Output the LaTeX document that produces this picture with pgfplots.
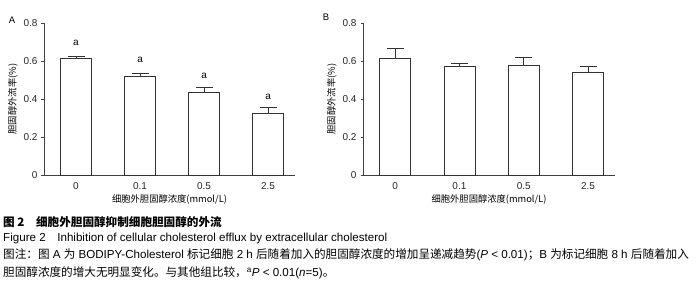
\documentclass[border=0pt]{standalone}
\usepackage{pgfplots}
\pgfplotsset{compat=1.18}
\usepackage{fontspec}
\setmainfont{Liberation Sans}
\newfontfamily\cjk{Noto Sans CJK SC}
\definecolor{axgray}{HTML}{404040}
\pgfplotsset{myaxis/.style={
  scale only axis, width=251pt, height=152pt,
  axis x line*=bottom, axis y line*=left,
  axis line style={axgray, line width=0.6pt},
  xmin=-0.5, xmax=3.42, ymin=0, ymax=0.8,
  xtick=data, xticklabels={0,0.1,0.5,2.5},
  xtick style={draw=none},
  ytick={0,0.2,0.4,0.6,0.8}, yticklabels={0,0.2,0.4,0.6,0.8},
  ytick style={axgray, line width=0.6pt}, tick align=outside, major tick length=2.5pt,
  ticklabel style={font=\fontsize{10}{11}\selectfont, text=black!85},
  yticklabel style={xshift=-0.5pt},
  xticklabel style={yshift=-1pt},
  ylabel={\cjk\fontsize{9.3}{10}\selectfont 胆固醇外流率(\%)},
  xlabel={\cjk\fontsize{9.3}{10}\selectfont 细胞外胆固醇浓度(mmol/L)},
  ylabel style={yshift=-1pt},
  xlabel style={yshift=1.5pt},
  clip=false,
}}
\begin{document}
\begin{tikzpicture}
\path[use as bounding box] (0,0) rectangle (700pt,289pt);
% Panel A
\begin{axis}[myaxis, at={(44pt,114pt)}, anchor=south west]
\addplot[ybar, bar width=31pt, draw=black!80, fill=white, line width=0.6pt,
  error bars/.cd, y dir=plus, y explicit,
  error bar style={black!80, line width=0.6pt},
  error mark options={rotate=90, mark size=8.5pt, black!80, line width=0.6pt}]
  table[x=x, y=y, y error=e] {
x y e
0 0.612 0.012
1 0.522 0.013
2 0.433 0.031
3 0.324 0.030
};
\addplot[only marks, mark=none, nodes near coords, point meta=explicit symbolic,
  every node near coord/.style={font=\fontsize{10}{11}\selectfont, anchor=center}]
  table[meta=t] {
x y t
0 0.695 a
1 0.605 a
2 0.520 a
3 0.410 a
};
\end{axis}
% Panel B
\begin{axis}[myaxis, at={(363pt,114pt)}, anchor=south west, width=252pt]
\addplot[ybar, bar width=31pt, draw=black!80, fill=white, line width=0.6pt,
  error bars/.cd, y dir=plus, y explicit,
  error bar style={black!80, line width=0.6pt},
  error mark options={rotate=90, mark size=8.5pt, black!80, line width=0.6pt}]
  table[x=x, y=y, y error=e] {
x y e
0 0.614 0.053
1 0.572 0.014
2 0.576 0.043
3 0.543 0.029
};
\end{axis}
\node[font=\fontsize{9.5}{10}\selectfont] at (12pt,269pt) {A};
\node[font=\fontsize{9.5}{10}\selectfont] at (326pt,272pt) {B};
% Caption
\node[anchor=west, inner sep=0pt, font=\cjk\bfseries\fontsize{11.6}{13}\selectfont] at (3pt,67pt) {图 2\hspace{1em}细胞外胆固醇抑制细胞胆固醇的外流};
\node[anchor=west, inner sep=0pt, font=\fontsize{11.6}{13}\selectfont] at (3pt,51pt) {Figure 2\hspace{1em}Inhibition of cellular cholesterol efflux by extracellular cholesterol};
\node[anchor=west, inner sep=0pt, font=\fontsize{11.6}{13}\selectfont] at (3pt,34pt) {{\cjk 图注：图} A {\cjk 为} BODIPY-Cholesterol {\cjk 标记细胞} 2 h {\cjk 后随着加入的胆固醇浓度的增加呈递减趋势}(\textit{P} {\textless} 0.01){\cjk ；}B {\cjk 为标记细胞} 8 h {\cjk 后随着加入}};
\node[anchor=west, inner sep=0pt, font=\fontsize{11.6}{13}\selectfont] at (3pt,16pt) {{\cjk 胆固醇浓度的增大无明显变化。与其他组比较，}\textsuperscript{a}\textit{P} {\textless} 0.01(\textit{n}=5){\cjk 。}};
\end{tikzpicture}
\end{document}
